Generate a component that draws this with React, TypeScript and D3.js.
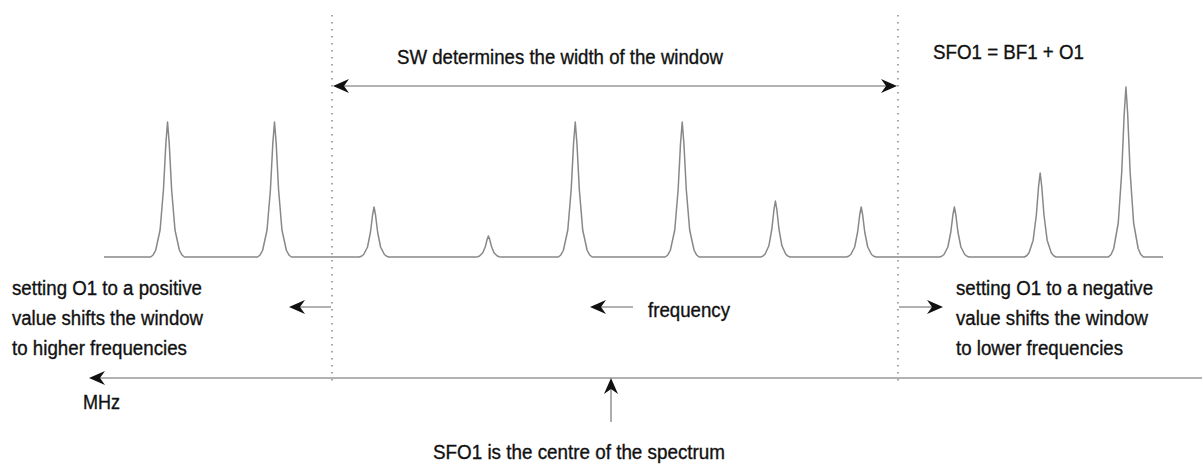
import React, { useRef, useEffect } from 'react';
import * as d3 from 'd3';

// peak positions in arbitrary frequency units (0 = left end of spectrum, 100 = right end)
const peakPos = [6.0, 16.1, 25.5, 36.3, 44.5, 54.6, 63.4, 71.5, 80.3, 88.4, 96.5];
const peakHeight = [135, 135, 50, 21, 135, 135, 56, 50, 50, 84, 170];
const peakHalfBase = [1.6, 1.6, 1.4, 1.2, 1.6, 1.6, 1.4, 1.4, 1.4, 1.5, 1.65];

// one side of a peak: offset (share of half base) -> share of height
const profileDx = [0, 0.1, 0.24, 0.44, 0.7, 0.85, 1];
const profileFrac = [1, 0.84, 0.5, 0.2, 0.05, 0.015, 0];

const leftNotes = ['setting O1 to a positive', 'value shifts the window', 'to higher frequencies'];
const rightNotes = ['setting O1 to a negative', 'value shifts the window', 'to lower frequencies'];

const W = 1202;
const H = 464;
const FONT = '"Liberation Sans Narrow", "Liberation Sans", Arial, sans-serif';

const App = () => {
  const svgRef = useRef<SVGSVGElement | null>(null);

  useEffect(() => {
    const svg = d3.select(svgRef.current);
    svg.selectAll('*').remove();

    const x = d3.scaleLinear().domain([0, 100]).range([104, 1163]);
    const y = d3.scaleLinear().domain([0, 170]).range([257, 87]);

    // build the spectrum trace
    const pts: [number, number][] = [[0, 0]];
    peakPos.forEach((p, i) => {
      const hb = peakHalfBase[i];
      const h = peakHeight[i];
      for (let k = profileDx.length - 1; k >= 0; k--) pts.push([p - profileDx[k] * hb, profileFrac[k] * h]);
      for (let k = 1; k < profileDx.length; k++) pts.push([p + profileDx[k] * hb, profileFrac[k] * h]);
    });
    pts.push([100, 0]);

    const line = d3.line<[number, number]>()
      .x(d => x(d[0]))
      .y(d => y(d[1]));

    svg.append('path')
      .datum(pts)
      .attr('fill', 'none')
      .attr('stroke', '#888')
      .attr('stroke-width', 1.5)
      .attr('stroke-linejoin', 'round')
      .attr('d', line);

    // window edges
    [332, 898].forEach(xx => {
      svg.append('line')
        .attr('x1', xx).attr('x2', xx)
        .attr('y1', 15).attr('y2', 386)
        .attr('stroke', '#777')
        .attr('stroke-width', 1.3)
        .attr('stroke-dasharray', '1.5 5.5');
    });

    const arrowLine = (x1: number, y1: number, x2: number, y2: number) => {
      svg.append('line')
        .attr('x1', x1).attr('y1', y1).attr('x2', x2).attr('y2', y2)
        .attr('stroke', '#999')
        .attr('stroke-width', 1.6);
    };

    // arrow head with tip at (tx, ty), pointing along angle (degrees)
    const head = (tx: number, ty: number, angle: number) => {
      svg.append('path')
        .attr('d', 'M0,0 L-16,-7 L-11,0 L-16,7 Z')
        .attr('transform', `translate(${tx},${ty}) rotate(${angle})`)
        .attr('fill', '#111');
    };

    // SW double arrow
    arrowLine(338, 86, 892, 86);
    head(333, 86, 180);
    head(897, 86, 0);

    // small shift arrows
    arrowLine(292, 307, 331, 307);
    head(289, 307, 180);
    arrowLine(899, 307, 939, 307);
    head(943, 307, 0);

    // frequency arrow
    arrowLine(596, 307, 633, 307);
    head(590, 307, 180);

    // frequency axis
    arrowLine(94, 378, W, 378);
    head(89, 378, 180);

    // centre arrow
    arrowLine(611, 384, 611, 422);
    head(611, 378, -90);

    const text = (s: string, tx: number, ty: number, len: number) => {
      svg.append('text')
        .attr('x', tx)
        .attr('y', ty)
        .attr('dominant-baseline', 'central')
        .attr('font-family', FONT)
        .attr('font-size', 20)
        .attr('fill', '#111')
        .attr('stroke', '#111')
        .attr('stroke-width', 0.35)
        .attr('textLength', len)
        .attr('lengthAdjust', 'spacingAndGlyphs')
        .text(s);
    };

    text('SW determines the width of the window', 397, 57, 326);
    text('SFO1 = BF1 + O1', 933, 52, 151);

    const leftLens = [190, 191, 175];
    leftNotes.forEach((s, i) => text(s, 12, 288 + i * 30, leftLens[i]));
    const rightLens = [197, 192, 167];
    rightNotes.forEach((s, i) => text(s, 956, 288 + i * 30, rightLens[i]));

    text('frequency', 648, 310, 82);
    text('MHz', 83, 402, 37);
    text('SFO1 is the centre of the spectrum', 433, 452, 292);
  }, []);

  return (
    <svg
      ref={svgRef}
      width={W}
      height={H}
      style={{ position: 'absolute', left: 0, top: 0, background: '#fff' }}
    />
  );
};

export default App;
